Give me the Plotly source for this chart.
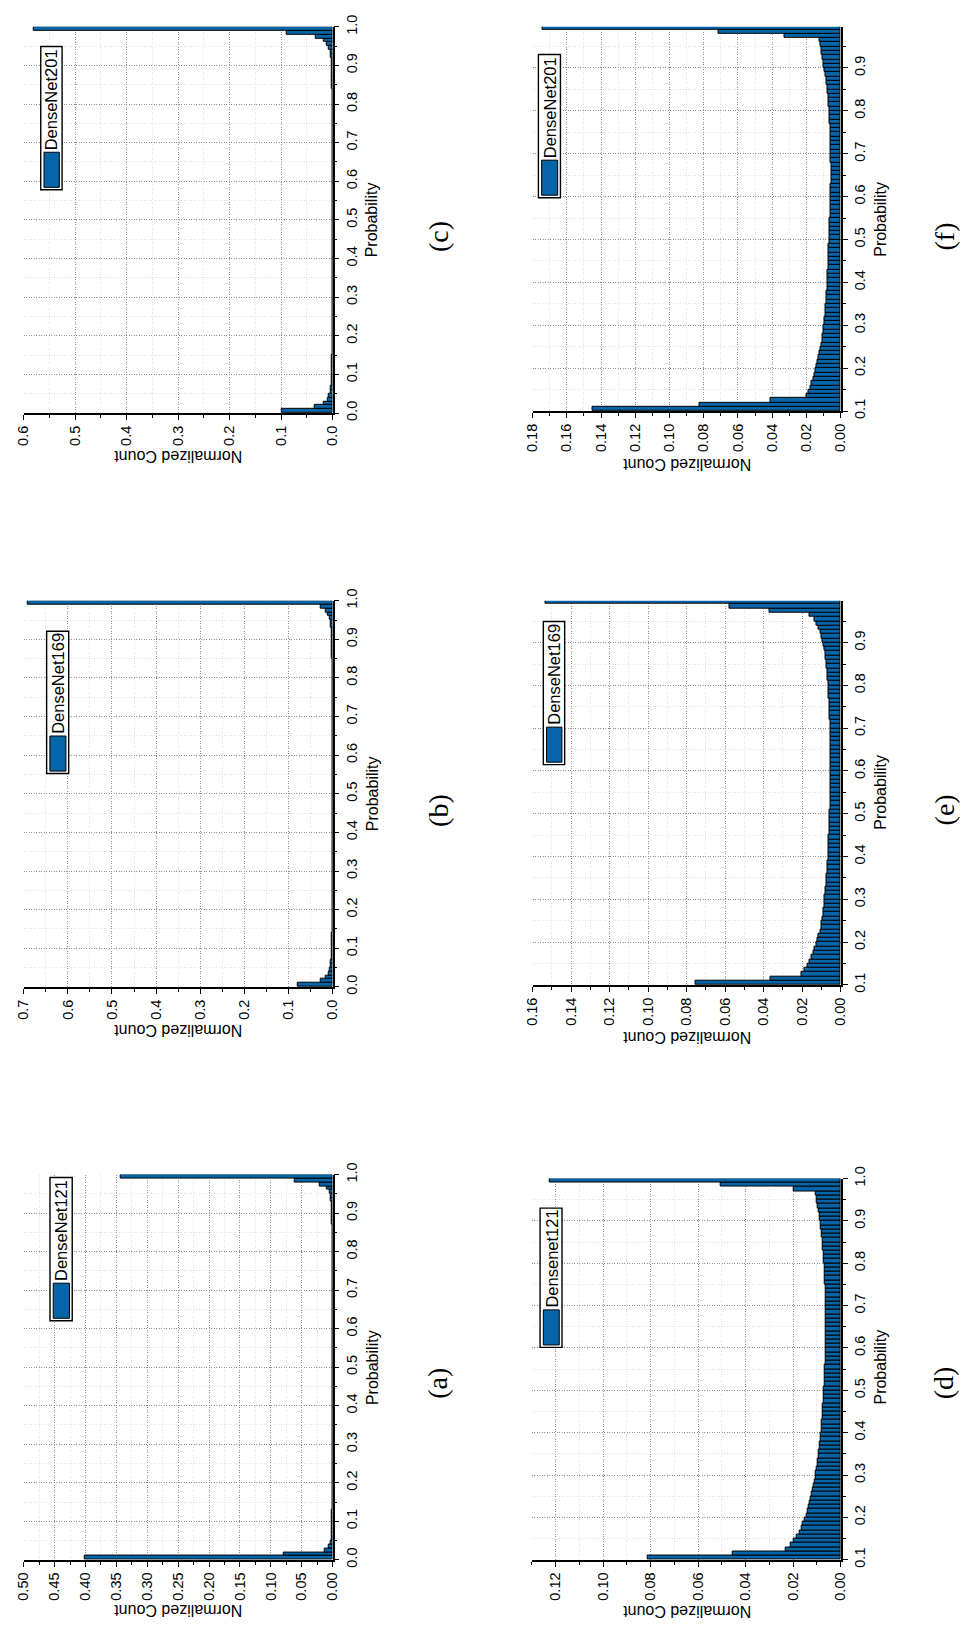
import plotly.graph_objects as go

# ---------------- data ----------------
BIN_WIDTH = 0.01
# left-edge of the first bin for each group of panels
start_abc = 0.0   # panels (a)(b)(c): bins 0.00 .. 0.99
start_def = 0.10  # panels (d)(e)(f): bins 0.10 .. 0.99

legend_names = ["DenseNet121", "DenseNet169", "DenseNet201",
                "Densenet121", "DenseNet169", "DenseNet201"]
panel_tags = ["(a)", "(b)", "(c)", "(d)", "(e)", "(f)"]

a_values = [0.4010, 0.0796, 0.0122, 0.0055, 0.0030, 0.0020, 0.0014, 0.0011, 0.0009, 0.0008,
            0.0007, 0.0006, 0.0006, 0.0005, 0.0005, 0.0005, 0.0004, 0.0004, 0.0004, 0.0004,
            0.0003, 0.0003, 0.0003, 0.0003, 0.0003, 0.0003, 0.0003, 0.0003, 0.0002, 0.0002,
            0.0002, 0.0002, 0.0002, 0.0002, 0.0002, 0.0002, 0.0002, 0.0002, 0.0002, 0.0002,
            0.0002, 0.0002, 0.0002, 0.0002, 0.0002, 0.0002, 0.0002, 0.0002, 0.0002, 0.0002,
            0.0002, 0.0002, 0.0002, 0.0002, 0.0002, 0.0002, 0.0002, 0.0002, 0.0002, 0.0002,
            0.0002, 0.0002, 0.0002, 0.0002, 0.0002, 0.0002, 0.0002, 0.0002, 0.0002, 0.0002,
            0.0002, 0.0002, 0.0003, 0.0003, 0.0003, 0.0003, 0.0003, 0.0003, 0.0003, 0.0003,
            0.0003, 0.0003, 0.0004, 0.0004, 0.0004, 0.0005, 0.0005, 0.0006, 0.0007, 0.0008,
            0.0010, 0.0013, 0.0017, 0.0023, 0.0032, 0.0050, 0.0090, 0.0202, 0.0610, 0.3434]

b_values = [0.0780, 0.0260, 0.0150, 0.0096, 0.0065, 0.0045, 0.0032, 0.0024, 0.0018, 0.0014,
            0.0012, 0.0010, 0.0009, 0.0008, 0.0007, 0.0007, 0.0006, 0.0006, 0.0005, 0.0005,
            0.0005, 0.0004, 0.0004, 0.0004, 0.0004, 0.0004, 0.0003, 0.0003, 0.0003, 0.0003,
            0.0003, 0.0003, 0.0003, 0.0003, 0.0003, 0.0003, 0.0003, 0.0003, 0.0003, 0.0003,
            0.0003, 0.0003, 0.0003, 0.0003, 0.0003, 0.0003, 0.0003, 0.0003, 0.0003, 0.0003,
            0.0003, 0.0003, 0.0003, 0.0003, 0.0003, 0.0003, 0.0003, 0.0003, 0.0003, 0.0003,
            0.0003, 0.0003, 0.0003, 0.0003, 0.0003, 0.0003, 0.0003, 0.0003, 0.0003, 0.0003,
            0.0003, 0.0003, 0.0003, 0.0003, 0.0004, 0.0004, 0.0004, 0.0004, 0.0004, 0.0004,
            0.0005, 0.0005, 0.0006, 0.0006, 0.0007, 0.0008, 0.0009, 0.0010, 0.0012, 0.0014,
            0.0016, 0.0020, 0.0027, 0.0036, 0.0050, 0.0070, 0.0100, 0.0160, 0.0260, 0.6900]

c_values = [0.0990, 0.0340, 0.0170, 0.0100, 0.0065, 0.0045, 0.0032, 0.0024, 0.0018, 0.0014,
            0.0012, 0.0010, 0.0009, 0.0008, 0.0007, 0.0006, 0.0006, 0.0005, 0.0005, 0.0005,
            0.0004, 0.0004, 0.0004, 0.0004, 0.0004, 0.0003, 0.0003, 0.0003, 0.0003, 0.0003,
            0.0003, 0.0003, 0.0003, 0.0003, 0.0003, 0.0003, 0.0003, 0.0003, 0.0003, 0.0003,
            0.0003, 0.0003, 0.0003, 0.0003, 0.0003, 0.0003, 0.0003, 0.0003, 0.0003, 0.0003,
            0.0003, 0.0003, 0.0003, 0.0003, 0.0003, 0.0003, 0.0003, 0.0003, 0.0003, 0.0003,
            0.0003, 0.0003, 0.0003, 0.0003, 0.0003, 0.0003, 0.0003, 0.0003, 0.0003, 0.0003,
            0.0003, 0.0003, 0.0003, 0.0003, 0.0004, 0.0004, 0.0004, 0.0004, 0.0004, 0.0005,
            0.0005, 0.0005, 0.0006, 0.0006, 0.0007, 0.0008, 0.0009, 0.0010, 0.0011, 0.0013,
            0.0015, 0.0020, 0.0030, 0.0045, 0.0070, 0.0110, 0.0170, 0.0320, 0.0900, 0.5810]

d_values = [0.0810, 0.0455, 0.0232, 0.0210, 0.0196, 0.0184, 0.0174, 0.0166, 0.0158, 0.0151,
            0.0145, 0.0139, 0.0134, 0.0129, 0.0125, 0.0121, 0.0117, 0.0113, 0.0110, 0.0107,
            0.0104, 0.0101, 0.0098, 0.0096, 0.0093, 0.0091, 0.0089, 0.0087, 0.0085, 0.0083,
            0.0082, 0.0080, 0.0079, 0.0077, 0.0076, 0.0075, 0.0074, 0.0073, 0.0072, 0.0071,
            0.0070, 0.0069, 0.0068, 0.0067, 0.0067, 0.0066, 0.0065, 0.0065, 0.0064, 0.0064,
            0.0063, 0.0063, 0.0063, 0.0062, 0.0062, 0.0062, 0.0062, 0.0062, 0.0062, 0.0063,
            0.0063, 0.0063, 0.0064, 0.0064, 0.0065, 0.0066, 0.0066, 0.0067, 0.0068, 0.0069,
            0.0070, 0.0071, 0.0072, 0.0074, 0.0075, 0.0077, 0.0079, 0.0081, 0.0083, 0.0085,
            0.0088, 0.0090, 0.0093, 0.0096, 0.0099, 0.0102, 0.0104, 0.0196, 0.0507, 0.1224]

e_values = [0.0752, 0.0363, 0.0204, 0.0189, 0.0174, 0.0163, 0.0153, 0.0143, 0.0134, 0.0126,
            0.0119, 0.0113, 0.0107, 0.0102, 0.0098, 0.0094, 0.0091, 0.0088, 0.0086, 0.0084,
            0.0082, 0.0080, 0.0078, 0.0076, 0.0074, 0.0072, 0.0071, 0.0069, 0.0068, 0.0066,
            0.0065, 0.0064, 0.0063, 0.0062, 0.0061, 0.0060, 0.0059, 0.0058, 0.0057, 0.0057,
            0.0056, 0.0055, 0.0055, 0.0054, 0.0054, 0.0053, 0.0053, 0.0052, 0.0052, 0.0052,
            0.0051, 0.0051, 0.0051, 0.0052, 0.0052, 0.0052, 0.0053, 0.0053, 0.0053, 0.0054,
            0.0054, 0.0055, 0.0056, 0.0057, 0.0058, 0.0059, 0.0060, 0.0061, 0.0062, 0.0064,
            0.0065, 0.0067, 0.0069, 0.0071, 0.0073, 0.0075, 0.0078, 0.0081, 0.0084, 0.0088,
            0.0094, 0.0100, 0.0107, 0.0115, 0.0124, 0.0136, 0.0162, 0.0371, 0.0578, 0.1530]

f_values = [0.1447, 0.0824, 0.0410, 0.0201, 0.0188, 0.0178, 0.0169, 0.0161, 0.0154, 0.0149,
            0.0144, 0.0137, 0.0130, 0.0124, 0.0118, 0.0113, 0.0109, 0.0105, 0.0102, 0.0099,
            0.0096, 0.0094, 0.0091, 0.0089, 0.0087, 0.0085, 0.0083, 0.0081, 0.0079, 0.0078,
            0.0077, 0.0076, 0.0075, 0.0074, 0.0073, 0.0072, 0.0071, 0.0070, 0.0069, 0.0068,
            0.0067, 0.0066, 0.0065, 0.0064, 0.0063, 0.0062, 0.0061, 0.0060, 0.0059, 0.0058,
            0.0057, 0.0057, 0.0057, 0.0056, 0.0056, 0.0056, 0.0056, 0.0056, 0.0057, 0.0057,
            0.0057, 0.0058, 0.0058, 0.0059, 0.0060, 0.0061, 0.0062, 0.0063, 0.0064, 0.0065,
            0.0067, 0.0069, 0.0071, 0.0073, 0.0076, 0.0079, 0.0082, 0.0086, 0.0090, 0.0094,
            0.0098, 0.0102, 0.0106, 0.0110, 0.0114, 0.0117, 0.0125, 0.0326, 0.0715, 0.1744]

prob_ticks_abc = [0.0, 0.1, 0.2, 0.3, 0.4, 0.5, 0.6, 0.7, 0.8, 0.9, 1.0]
prob_labels_abc = ["0.0", "0.1", "0.2", "0.3", "0.4", "0.5", "0.6", "0.7", "0.8", "0.9", "1.0"]
prob_ticks_d = [0.1, 0.2, 0.3, 0.4, 0.5, 0.6, 0.7, 0.8, 0.9, 1.0]
prob_labels_d = ["0.1", "0.2", "0.3", "0.4", "0.5", "0.6", "0.7", "0.8", "0.9", "1.0"]
prob_ticks_ef = [0.1, 0.2, 0.3, 0.4, 0.5, 0.6, 0.7, 0.8, 0.9]
prob_labels_ef = ["0.1", "0.2", "0.3", "0.4", "0.5", "0.6", "0.7", "0.8", "0.9"]

count_ticks_a = [0.0, 0.05, 0.10, 0.15, 0.20, 0.25, 0.30, 0.35, 0.40, 0.45, 0.50]
count_labels_a = ["0.00", "0.05", "0.10", "0.15", "0.20", "0.25", "0.30", "0.35", "0.40", "0.45", "0.50"]
count_ticks_b = [0.0, 0.1, 0.2, 0.3, 0.4, 0.5, 0.6, 0.7]
count_labels_b = ["0.0", "0.1", "0.2", "0.3", "0.4", "0.5", "0.6", "0.7"]
count_ticks_c = [0.0, 0.1, 0.2, 0.3, 0.4, 0.5, 0.6]
count_labels_c = ["0.0", "0.1", "0.2", "0.3", "0.4", "0.5", "0.6"]
count_ticks_d = [0.0, 0.02, 0.04, 0.06, 0.08, 0.10, 0.12]
count_labels_d = ["0.00", "0.02", "0.04", "0.06", "0.08", "0.10", "0.12"]
count_ticks_e = [0.0, 0.02, 0.04, 0.06, 0.08, 0.10, 0.12, 0.14, 0.16]
count_labels_e = ["0.00", "0.02", "0.04", "0.06", "0.08", "0.10", "0.12", "0.14", "0.16"]
count_ticks_f = [0.0, 0.02, 0.04, 0.06, 0.08, 0.10, 0.12, 0.14, 0.16, 0.18]
count_labels_f = ["0.00", "0.02", "0.04", "0.06", "0.08", "0.10", "0.12", "0.14", "0.16", "0.18"]

# ---------------- styling / layout helpers ----------------
W, H = 970, 1631
BLUE = "#0565A8"
SANS = "Liberation Sans, Arial, sans-serif"
SERIF = "Liberation Serif, Times New Roman, serif"
MAJOR_GRID = "#8f8f8f"
MINOR_GRID = "#e2e2e2"
DOTS = "1px,1.5px"


def fx(px):
    return px / W


def fy(py):
    return 1 - py / H


def centers(start, n):
    return [round(start + BIN_WIDTH * (k + 0.5), 4) for k in range(n)]


def minor_vals(lo, hi, step):
    out = []
    v = lo
    while v <= hi + 1e-9:
        out.append(round(v, 4))
        v += step
    return out


# panel geometry (pixels): x-left, x-right(count 0), y-top, y-bottom
panels = [
    dict(vals=a_values, start=start_abc, prange=[0.0, 1.0], pt=prob_ticks_abc, pl=prob_labels_abc,
         cmax=0.5, ct=count_ticks_a, cl=count_labels_a, cminor=0.025,
         box=(16, 330, 1177, 1567), legend=(42.7, 65.3, 1180, 1325),
         ptitle=(370, 1372), ctitle=(173, 1619), tag=(437, 1388)),
    dict(vals=b_values, start=start_abc, prange=[0.0, 1.0], pt=prob_ticks_abc, pl=prob_labels_abc,
         cmax=0.7, ct=count_ticks_b, cl=count_labels_b, cminor=0.05,
         box=(16, 330, 596, 987), legend=(39.3, 61.7, 627, 771),
         ptitle=(370, 791), ctitle=(173, 1031), tag=(437, 808)),
    dict(vals=c_values, start=start_abc, prange=[0.0, 1.0], pt=prob_ticks_abc, pl=prob_labels_abc,
         cmax=0.6, ct=count_ticks_c, cl=count_labels_c, cminor=0.05,
         box=(16, 330, 15, 406), legend=(33.3, 55, 35, 180),
         ptitle=(370, 210), ctitle=(173, 450), tag=(437, 227)),
    dict(vals=d_values, start=start_def, prange=[0.1, 1.0], pt=prob_ticks_d, pl=prob_labels_d,
         cmax=0.13, ct=count_ticks_d, cl=count_labels_d, cminor=0.01,
         box=(532.5, 846.7, 1181, 1567), legend=(541, 563.3, 1211, 1352),
         ptitle=(887, 1372), ctitle=(690, 1620), tag=(952, 1388)),
    dict(vals=e_values, start=start_def, prange=[0.1, 0.998], pt=prob_ticks_ef, pl=prob_labels_ef,
         cmax=0.16, ct=count_ticks_e, cl=count_labels_e, cminor=0.01,
         box=(533.3, 846.7, 596, 985), legend=(544.3, 566, 617, 762),
         ptitle=(887, 790), ctitle=(690, 1038), tag=(952, 808)),
    dict(vals=f_values, start=start_def, prange=[0.1, 0.996], pt=prob_ticks_ef, pl=prob_labels_ef,
         cmax=0.18, ct=count_ticks_f, cl=count_labels_f, cminor=0.01,
         box=(533.3, 846.7, 15, 404), legend=(539.3, 561.7, 43, 188),
         ptitle=(887, 210), ctitle=(690, 458), tag=(952, 227)),
]

fig = go.Figure()
layout = dict(width=W, height=H, margin=dict(l=0, r=0, t=0, b=0),
              paper_bgcolor="white", plot_bgcolor="white", showlegend=False,
              bargap=0)
annotations = []
shapes = []

for i, p in enumerate(panels, start=1):
    xs = "" if i == 1 else str(i)
    n = len(p["vals"])
    fig.add_trace(go.Bar(
        x=p["vals"], y=centers(p["start"], n), orientation="h", width=BIN_WIDTH,
        marker=dict(color=BLUE, line=dict(color="black", width=1)),
        xaxis="x" + xs, yaxis="y" + xs, showlegend=False, hoverinfo="x+y"))

    L, R, T, B = p["box"]
    common = dict(showline=True, linecolor="black", linewidth=1.8, mirror=False,
                  ticks="outside", ticklen=5, tickwidth=1, tickcolor="black",
                  tickmode="array", tickangle=-90,
                  tickfont=dict(family=SANS, size=14.5, color="black"),
                  showgrid=True, gridcolor=MAJOR_GRID, griddash=DOTS, gridwidth=1,
                  zeroline=False, fixedrange=True)
    layout["xaxis" + xs] = dict(
        domain=[fx(L), fx(R)], range=[p["cmax"], 0], anchor="y" + xs, side="bottom",
        tickvals=p["ct"], ticktext=p["cl"],
        minor=dict(tickmode="array", tickvals=minor_vals(0, p["cmax"], p["cminor"]),
                   ticks="outside", ticklen=3, tickcolor="black",
                   showgrid=True, gridcolor=MINOR_GRID, gridwidth=1),
        **common)
    layout["yaxis" + xs] = dict(
        domain=[fy(B), fy(T)], range=p["prange"], anchor="x" + xs, side="right",
        tickvals=p["pt"], ticktext=p["pl"],
        minor=dict(tickmode="array", tickvals=minor_vals(p["prange"][0], p["prange"][1], 0.05),
                   ticks="outside", ticklen=3, tickcolor="black",
                   showgrid=True, gridcolor=MINOR_GRID, gridwidth=1),
        **common)

    # axis titles (rotated as in the page)
    px_, py_ = p["ptitle"]
    annotations.append(dict(text="Probability", x=fx(px_), y=fy(py_), xref="paper", yref="paper",
                            showarrow=False, textangle=-90, xanchor="center", yanchor="middle",
                            font=dict(family=SANS, size=16, color="black")))
    cx_, cy_ = p["ctitle"]
    annotations.append(dict(text="Normalized Count", x=fx(cx_), y=fy(cy_), xref="paper", yref="paper",
                            showarrow=False, textangle=180, xanchor="center", yanchor="middle",
                            font=dict(family=SANS, size=16, color="black")))
    tx_, ty_ = p["tag"]
    annotations.append(dict(text=panel_tags[i - 1], x=fx(tx_), y=fy(ty_), xref="paper", yref="paper",
                            showarrow=False, textangle=-90, xanchor="center", yanchor="middle",
                            font=dict(family=SERIF, size=28, color="black")))

    # legend box (drawn rotated like the page)
    lx0, lx1, ly0, ly1 = p["legend"]
    shapes.append(dict(type="rect", xref="paper", yref="paper",
                       x0=fx(lx0), x1=fx(lx1), y0=fy(ly1), y1=fy(ly0),
                       line=dict(color="black", width=1.4), fillcolor="white", layer="above"))
    shapes.append(dict(type="rect", xref="paper", yref="paper",
                       x0=fx(lx0 + 3.3), x1=fx(lx1 - 2.8), y0=fy(ly1 - 2.5), y1=fy(ly1 - 38),
                       line=dict(color="black", width=1), fillcolor=BLUE, layer="above"))
    annotations.append(dict(text=legend_names[i - 1], x=fx((lx0 + lx1) / 2 + 0.5),
                            y=fy((ly0 + ly1 - 38) / 2), xref="paper", yref="paper",
                            showarrow=False, textangle=-90, xanchor="center", yanchor="middle",
                            font=dict(family=SANS, size=16.5, color="black")))

layout["annotations"] = annotations
layout["shapes"] = shapes
fig.update_layout(**layout)
fig.write_html("out.html")
